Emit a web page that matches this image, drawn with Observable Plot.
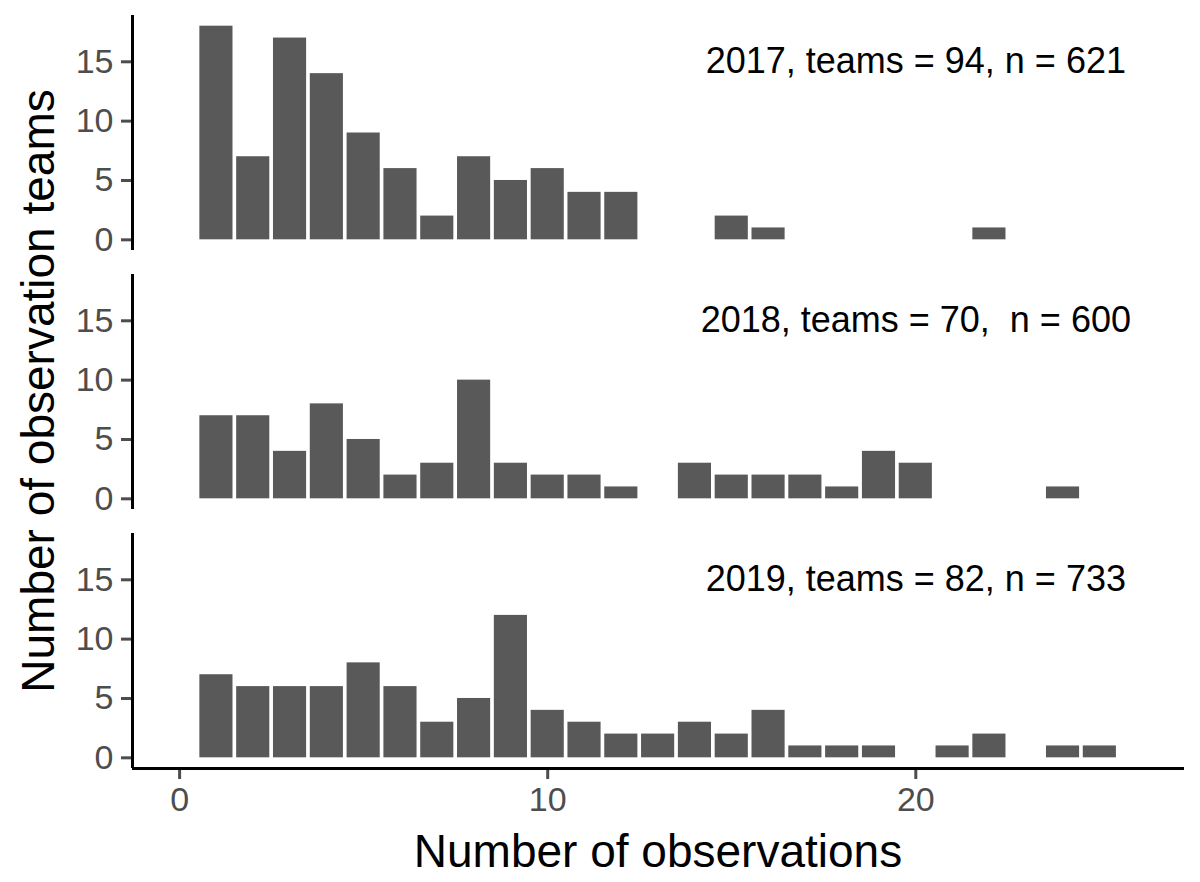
<!DOCTYPE html>
<html>
<head>
<meta charset="utf-8">
<script src="https://cdn.jsdelivr.net/npm/d3@7"></script>
<script src="https://cdn.jsdelivr.net/npm/@observablehq/plot@0.6"></script>
<style>
  body { margin: 0; background: #fff; font-family: "Liberation Sans", Arial, sans-serif; }
  #wrap { position: relative; width: 1200px; height: 882px; overflow: hidden; }
  .ytitle { position: absolute; left: 38px; top: 391px; transform: translate(-50%, -50%) rotate(-90deg);
            font-size: 46px; white-space: nowrap; color: #000; }
  .xtitle { position: absolute; left: 658px; top: 851px; transform: translate(-50%, -50%);
            font-size: 46px; white-space: nowrap; color: #000; }
</style>
</head>
<body>
<div id="wrap"></div>
<script>
// ---- data ----
const years = [2017, 2018, 2019];
const panelLabels = [
  "2017, teams = 94, n = 621",
  "2018, teams = 70,\u00a0 n = 600",
  "2019, teams = 82, n = 733"
];
const obs2017 = [1, 2, 3, 4, 5, 6, 7, 8, 9, 10, 11, 12, 15, 16, 22];
const cnt2017 = [18, 7, 17, 14, 9, 6, 2, 7, 5, 6, 4, 4, 2, 1, 1];
const obs2018 = [1, 2, 3, 4, 5, 6, 7, 8, 9, 10, 11, 12, 14, 15, 16, 17, 18, 19, 20, 24];
const cnt2018 = [7, 7, 4, 8, 5, 2, 3, 10, 3, 2, 2, 1, 3, 2, 2, 2, 1, 4, 3, 1];
const obs2019 = [1, 2, 3, 4, 5, 6, 7, 8, 9, 10, 11, 12, 13, 14, 15, 16, 17, 18, 19, 21, 22, 24, 25];
const cnt2019 = [7, 6, 6, 6, 8, 6, 3, 5, 12, 4, 3, 2, 2, 3, 2, 4, 1, 1, 1, 1, 2, 1, 1];
const xTicks = [0, 10, 20];
const yTicks = [0, 5, 10, 15];

// ---- build table ----
const series = [[obs2017, cnt2017], [obs2018, cnt2018], [obs2019, cnt2019]];
const rows = [];
series.forEach(([obs, cnt], i) => obs.forEach((o, j) => rows.push({year: years[i], obs: o, count: cnt[j]})));
const labelRows = years.map((y, i) => ({year: y, label: panelLabels[i]}));

const xDomain = [-1.28, 27.3];
const yDomain = [-0.9, 18.9];
const font = '"Liberation Sans", Arial, sans-serif';

const chart = Plot.plot({
  width: 1200,
  height: 882,
  marginTop: 14,
  marginBottom: 114,
  marginLeft: 132,
  marginRight: 16,
  style: {fontFamily: font, fontSize: "34px", background: "white", overflow: "visible"},
  x: {domain: xDomain, axis: null},
  y: {domain: yDomain, axis: null},
  fy: {domain: years, padding: 0.094, axis: null},
  marks: [
    Plot.rectY(rows, {
      x1: d => d.obs - 0.45, x2: d => d.obs + 0.45,
      y1: 0, y2: "count", fy: "year", fill: "#595959"
    }),
    Plot.axisY({ticks: yTicks, tickSize: 11, tickPadding: 8, fontSize: 34,
                color: "#4d4d4d", strokeWidth: 3, label: null}),
    Plot.axisX({ticks: xTicks, tickSize: 11, tickPadding: 7, fontSize: 34,
                color: "#4d4d4d", strokeWidth: 3, label: null}),
    Plot.ruleX([xDomain[0]], {stroke: "#000", strokeWidth: 3}),
    Plot.ruleY([{year: years[years.length - 1], y: yDomain[0]}], {y: "y", fy: "year", stroke: "#000", strokeWidth: 3}),
    Plot.text(labelRows, {x: 20, y: 15, fy: "year", text: "label", fontSize: 36, fill: "#000"})
  ]
});

const wrap = document.getElementById("wrap");
wrap.appendChild(chart);
const yt = document.createElement("div");
yt.className = "ytitle";
yt.textContent = "Number of observation teams";
wrap.appendChild(yt);
const xt = document.createElement("div");
xt.className = "xtitle";
xt.textContent = "Number of observations";
wrap.appendChild(xt);
</script>
</body>
</html>
